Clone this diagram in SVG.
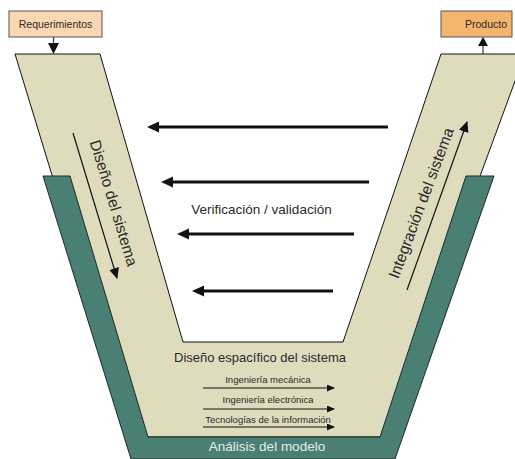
<svg xmlns="http://www.w3.org/2000/svg" width="515" height="459" viewBox="0 0 515 459">
  <style>
    text { font-family: "Liberation Sans", Arial, sans-serif; fill: #2a2a2a; }
    .box { stroke: #555; stroke-width: 1; }
    .big { stroke: #111; stroke-width: 3; fill: none; }
    .thin { stroke: #111; stroke-width: 1.2; fill: none; }
    .sub { font-size: 9.5px; text-anchor: middle; }
  </style>
  <defs>
    <!-- heavy head: line ends at the head's base -->
    <marker id="headBig" markerUnits="userSpaceOnUse" markerWidth="13" markerHeight="11" refX="0" refY="5.5" orient="auto" overflow="visible">
      <path d="M0,0 L12,5.5 L0,11 Z" fill="#111"/>
    </marker>
    <marker id="headSmall" markerUnits="userSpaceOnUse" markerWidth="8" markerHeight="7" refX="7" refY="3.5" orient="auto">
      <path d="M0,0 L8,3.5 L0,7 Z" fill="#111"/>
    </marker>
    <marker id="headSide" markerUnits="userSpaceOnUse" markerWidth="11" markerHeight="10" refX="10" refY="5" orient="auto">
      <path d="M0,0 L11,5 L0,10 Z" fill="#111"/>
    </marker>
  </defs>

  <!-- V body -->
  <g id="v-body">
    <polygon points="15,54 100,54 183,342 343,342 441,54 525,54 384,437 132,437" fill="#dfdcbe" stroke="#111" stroke-width="1"/>
  </g>

  <!-- model analysis band -->
  <g id="analisis">
    <polygon points="43,176 70,176 148,437 380,437 466,176 494,176 395,459 131,459" fill="#4a7f73" stroke="#1d2b27" stroke-width="1"/>
    <text x="267" y="451" font-size="13.5" text-anchor="middle" style="fill:#e6ece9">Análisis del modelo</text>
  </g>

  <g id="requerimientos">
    <rect class="box" x="9" y="11" width="93" height="26" fill="#fcd7b3"/>
    <text x="55.5" y="28" font-size="10.5" text-anchor="middle">Requerimientos</text>
  </g>

  <g id="producto">
    <rect class="box" x="441" y="11" width="71" height="26" fill="#f5b46d"/>
    <text x="486" y="28" font-size="10.5" text-anchor="middle">Producto</text>
  </g>

  <g id="diseno-sistema">
    <text x="0" y="0" font-size="15.5" text-anchor="middle" dominant-baseline="central" transform="translate(114,203) rotate(73)">Diseño del sistema</text>
  </g>

  <g id="integracion-sistema">
    <text x="0" y="0" font-size="15.5" text-anchor="middle" dominant-baseline="central" transform="translate(421,203) rotate(-69.5)">Integración del sistema</text>
  </g>

  <g id="verificacion">
    <text x="261.5" y="214" font-size="13.5" text-anchor="middle">Verificación / validación</text>
  </g>

  <g id="diseno-especifico">
    <text x="260" y="362" font-size="13" text-anchor="middle">Diseño espacífico del sistema</text>
    <text class="sub" x="268" y="383">Ingeniería mecánica</text>
    <text class="sub" x="268" y="403">Ingeniería electrónica</text>
    <text class="sub" x="268" y="423">Tecnologías de la información</text>
  </g>

  <!-- connectors -->
  <g id="connectors">
    <!-- into and out of the V -->
    <line x1="53.5" y1="37" x2="53.5" y2="44" stroke="#333" stroke-width="1.2"/>
    <polygon points="48,43 59,43 53.5,54" fill="#111"/>
    <line x1="483" y1="54" x2="483" y2="45" stroke="#333" stroke-width="1.2"/>
    <polygon points="478,46 488,46 483,37" fill="#111"/>

    <!-- verification / validation -->
    <line class="big" x1="388" y1="127" x2="159" y2="127" marker-end="url(#headBig)"/>
    <line class="big" x1="369" y1="182" x2="173" y2="182" marker-end="url(#headBig)"/>
    <line class="big" x1="354" y1="234" x2="189" y2="234" marker-end="url(#headBig)"/>
    <line class="big" x1="333" y1="291" x2="204" y2="291" marker-end="url(#headBig)"/>

    <!-- side flows -->
    <line class="thin" x1="73" y1="133" x2="117" y2="278" marker-end="url(#headSide)"/>
    <line class="thin" x1="407" y1="290" x2="467" y2="122" marker-end="url(#headSide)"/>

    <!-- discipline arrows -->
    <line class="thin" x1="203" y1="388" x2="334" y2="388" marker-end="url(#headSmall)"/>
    <line class="thin" x1="203" y1="409" x2="334" y2="409" marker-end="url(#headSmall)"/>
    <line class="thin" x1="203" y1="427" x2="334" y2="427" marker-end="url(#headSmall)"/>
  </g>
</svg>
